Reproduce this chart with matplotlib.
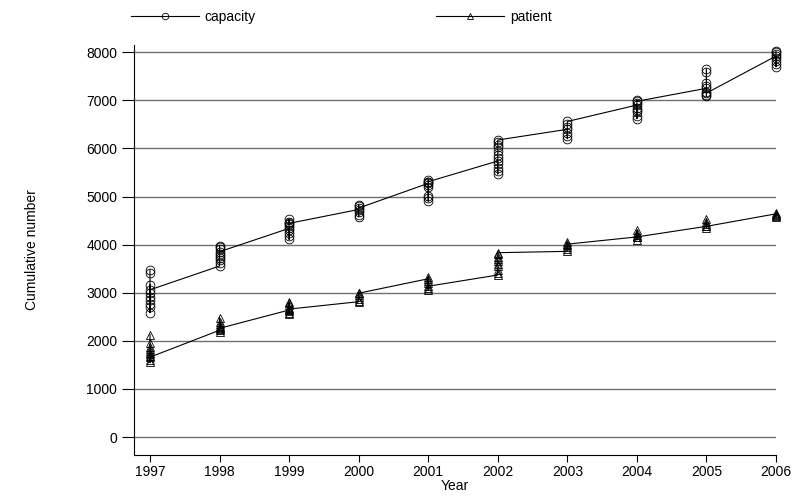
import matplotlib
matplotlib.use("Agg")
import matplotlib.pyplot as plt

plt.rcParams['font.family'] = ['Liberation Sans', 'DejaVu Sans']

years = [1997, 1998, 1999, 2000, 2001, 2002, 2003, 2004, 2005, 2006]

# values per year, in data order (line passes through them in this order)
capacity = {
    1997: [3470, 3400, 2585, 2710, 2775, 2845, 2915, 2985, 3160, 3060],
    1998: [3555, 3610, 3680, 3720, 3770, 3900, 3940, 3977, 3800, 3852],
    1999: [4338, 4110, 4180, 4250, 4300, 4380, 4480, 4532, 4420, 4442],
    2000: [4730, 4580, 4620, 4680, 4830, 4800, 4760],
    2001: [5274, 4906, 4960, 5020, 5200, 5240, 5300, 5343, 5308],
    2002: [5738, 5468, 5530, 5600, 5680, 5800, 5870, 5950, 6020, 6080, 6130, 6175],
    2003: [6397, 6202, 6260, 6330, 6450, 6500, 6560],
    2004: [6902, 6618, 6680, 6750, 6800, 6850, 6950, 7006, 6980],
    2005: [7250, 7080, 7120, 7180, 7300, 7350, 7580, 7650, 7150],
    2006: [7920, 7700, 7760, 7820, 7870, 7960, 8000, 8020],
}
patient = {
    1997: [2130, 1950, 1880, 1820, 1780, 1750, 1720, 1680, 1600, 1550, 1660],
    1998: [2220, 2480, 2400, 2350, 2300, 2280, 2250, 2190, 2260],
    1999: [2640, 2550, 2580, 2620, 2680, 2750, 2780, 2800, 2660],
    2000: [2813, 2830, 2870, 2920, 2960, 3000, 2990],
    2001: [3290, 3050, 3100, 3200, 3250, 3330, 3135],
    2002: [3368, 3400, 3480, 3550, 3600, 3650, 3700, 3750, 3800, 3832],
    2003: [3860, 3900, 3950, 4000, 4050, 4010],
    2004: [4160, 4100, 4150, 4200, 4250, 4300, 4160],
    2005: [4380, 4350, 4420, 4480, 4530, 4380],
    2006: [4640, 4580, 4600, 4620, 4650],
}
yticks = [0, 1000, 2000, 3000, 4000, 5000, 6000, 7000, 8000]

def flatten(d):
    xs, ys = [], []
    for y in years:
        for v in d[y]:
            xs.append(y)
            ys.append(v)
    return xs, ys

fig = plt.figure(figsize=(7.93, 4.97), dpi=100)
ax = fig.add_axes([134/793, (497-455)/497, (776-134)/793, (455-45)/497])

cx, cy = flatten(capacity)
px, py = flatten(patient)
ax.plot(cx, cy, color='black', lw=0.8, marker='o', ms=6.3, mfc='none',
        mec='black', mew=0.6, clip_on=False, zorder=3, label='capacity')
ax.plot(px, py, color='black', lw=0.8, marker='^', ms=6.3, mfc='none',
        mec='black', mew=0.6, clip_on=False, zorder=3, label='patient')

ax.set_xlim(1996.77, 2006)
ax.set_ylim(-374, 8150)
ax.set_xticks(years)
ax.set_yticks(yticks)
ax.tick_params(axis='y', length=9, width=0.8, labelsize=10, pad=3)
ax.tick_params(axis='x', length=5, width=0.8, labelsize=10, pad=2)
ax.yaxis.grid(True, color='#707070', lw=1.0)
ax.set_axisbelow(True)
for s in ['top', 'right']:
    ax.spines[s].set_visible(False)
ax.spines['left'].set_linewidth(0.8)
ax.spines['bottom'].set_linewidth(0.8)
ax.set_xlabel('Year', fontsize=10, labelpad=0)
ax.set_ylabel('Cumulative number', fontsize=10, labelpad=34)

leg = ax.legend(loc='lower left', bbox_to_anchor=(-0.005, 1.052), ncol=2,
                frameon=False, handlelength=4.9, handletextpad=0.4,
                columnspacing=13.0, fontsize=10, borderaxespad=0,
                borderpad=0, markerscale=0.75)

fig.savefig('out.png', dpi=100)
